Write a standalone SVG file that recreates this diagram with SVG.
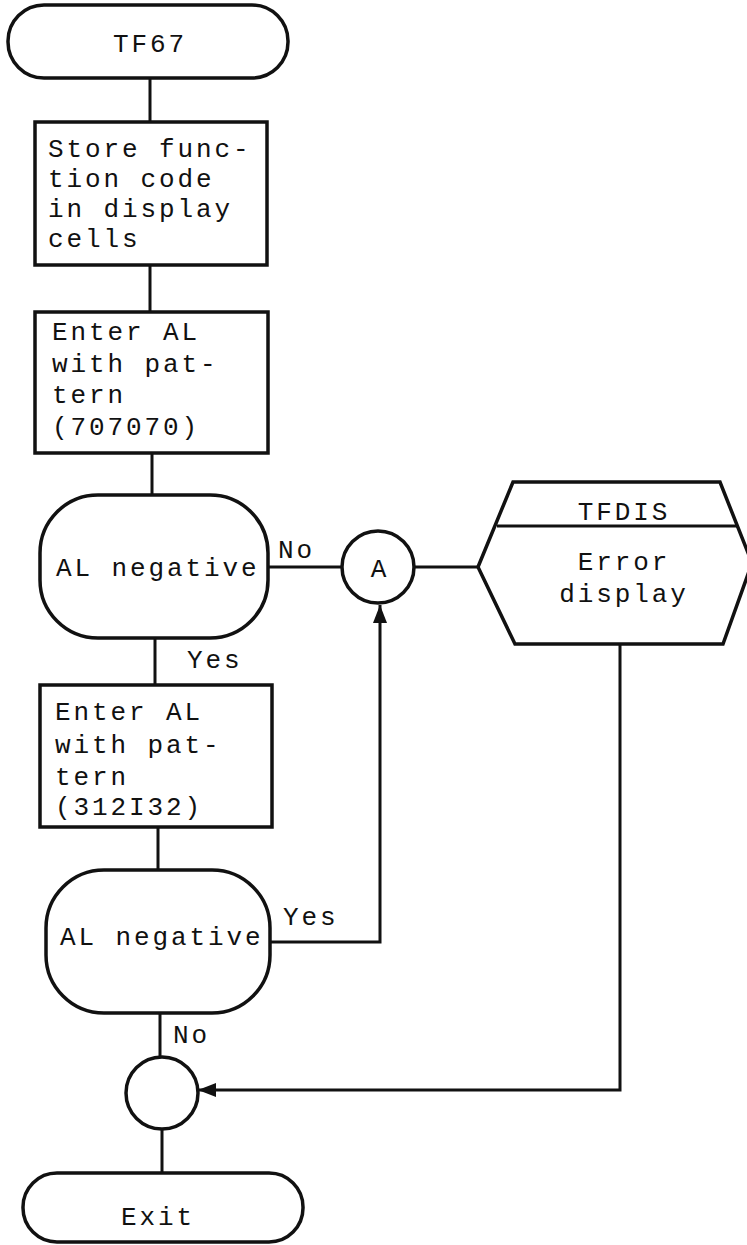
<svg xmlns="http://www.w3.org/2000/svg" width="747" height="1245" viewBox="0 0 747 1245">
<style>
.s{fill:#fff;stroke:#111;stroke-width:3.5}
.c{fill:none;stroke:#111;stroke-width:3}
.t{font-family:"Liberation Mono","DejaVu Sans Mono",monospace;font-size:26px;letter-spacing:2.9px;fill:#111}
.m{text-anchor:middle}
</style>
<defs>
<marker id="ah" markerUnits="userSpaceOnUse" markerWidth="20" markerHeight="14" refX="18" refY="7" orient="auto">
<path d="M0,0 L18,7 L0,14 Z" fill="#111"/>
</marker>
</defs>
<rect width="747" height="1245" fill="#fff"/>
<g id="connectors">
<path class="c" d="M150,78 V122"/>
<path class="c" d="M150,265 V312"/>
<path class="c" d="M152,453 V495"/>
<path class="c" d="M268,567 H342"/>
<path class="c" d="M414,567 H478"/>
<path class="c" d="M155,638 V685"/>
<path class="c" d="M158,827 V870"/>
<path class="c" d="M270,942 H380 V605" marker-end="url(#ah)"/>
<path class="c" d="M160,1013 V1057"/>
<path class="c" d="M620,643 V1090 H198" marker-end="url(#ah)"/>
<path class="c" d="M162,1129 V1173"/>
<text class="t" x="278" y="558">No</text>
<text class="t" x="187" y="668">Yes</text>
<text class="t" x="283" y="925">Yes</text>
<text class="t" x="173" y="1043">No</text>
</g>
<g id="start">
<rect class="s" x="8" y="5" width="280" height="73" rx="36"/>
<text class="t m" x="150" y="52">TF67</text>
</g>
<g id="store">
<rect class="s" x="35" y="122" width="232" height="143"/>
<text class="t" x="48" y="157">Store func-</text>
<text class="t" x="48" y="187">tion code</text>
<text class="t" x="48" y="217">in display</text>
<text class="t" x="48" y="247">cells</text>
</g>
<g id="enter1">
<rect class="s" x="35" y="312" width="233" height="141"/>
<text class="t" x="52" y="340">Enter AL</text>
<text class="t" x="52" y="372">with pat-</text>
<text class="t" x="52" y="403">tern</text>
<text class="t" x="52" y="435">(707070)</text>
</g>
<g id="dec1">
<rect class="s" x="40" y="495" width="228" height="143" rx="58"/>
<text class="t" x="56" y="576">AL negative</text>
</g>
<g id="connA">
<circle class="s" cx="378" cy="567" r="36"/>
<text class="t m" x="380" y="577">A</text>
</g>
<g id="tfdis">
<path class="s" d="M478,567 L513,482 H720 L752,563 L723,644 H515 Z"/>
<path class="c" d="M497,526 H737"/>
<text class="t m" x="624" y="520">TFDIS</text>
<text class="t m" x="624" y="570">Error</text>
<text class="t m" x="624" y="602">display</text>
</g>
<g id="enter2">
<rect class="s" x="40" y="685" width="232" height="142"/>
<text class="t" x="55" y="720">Enter AL</text>
<text class="t" x="55" y="753">with pat-</text>
<text class="t" x="55" y="785">tern</text>
<text class="t" x="55" y="815">(312I32)</text>
</g>
<g id="dec2">
<rect class="s" x="46" y="870" width="224" height="143" rx="58"/>
<text class="t" x="60" y="945">AL negative</text>
</g>
<g id="join">
<circle class="s" cx="162" cy="1093" r="36"/>
</g>
<g id="exit">
<rect class="s" x="23" y="1173" width="280" height="69" rx="34"/>
<text class="t m" x="158" y="1225">Exit</text>
</g>
</svg>
